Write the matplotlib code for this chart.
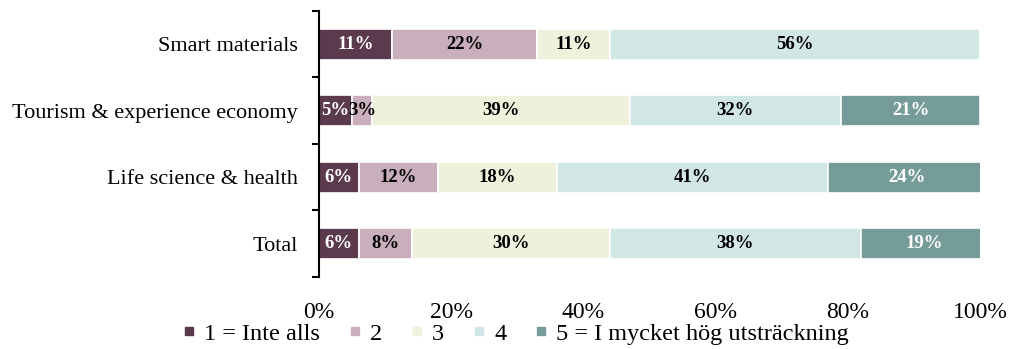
import matplotlib
matplotlib.use("Agg")
import matplotlib.pyplot as plt
from matplotlib.lines import Line2D
from matplotlib.ticker import FixedLocator, PercentFormatter

plt.rcParams["font.family"] = ["Liberation Serif", "DejaVu Serif"]

categories = ["Smart materials", "Tourism & experience economy",
              "Life science & health", "Total"]
levels = ["1 = Inte alls", "2", "3", "4", "5 = I mycket hög utsträckning"]
values = {
    "1 = Inte alls": [11, 5, 6, 6],
    "2": [22, 3, 12, 8],
    "3": [11, 39, 18, 30],
    "4": [56, 32, 41, 38],
    "5 = I mycket hög utsträckning": [0, 21, 24, 19],
}
colors = ["#5b3a4d", "#c9aebb", "#eff1dc", "#d3e6e6", "#769c9a"]
text_colors = ["white", "black", "black", "black", "white"]

fig = plt.figure(figsize=(10.11, 3.49), dpi=100)
ax = fig.add_axes([0.3155, 0.2063, 0.6538, 0.7622])

ypos = list(range(len(categories)))
left = [0.0] * len(categories)
for lvl, col, tcol in zip(levels, colors, text_colors):
    vals = values[lvl]
    ax.barh(ypos, vals, left=left, height=0.47, color=col,
            edgecolor="white", linewidth=1.2, label=lvl)
    for y, l, v in zip(ypos, left, vals):
        if v > 0:
            ax.text(l + v / 2, y, f"{v}%", ha="center", va="center",
                    color=tcol, fontsize=13.5, fontweight="bold")
    left = [a + b for a, b in zip(left, vals)]

ax.set_xlim(0, 100)
ax.set_ylim(len(categories) - 0.5, -0.5)
ax.set_yticks(ypos)
ax.set_yticklabels(categories, fontsize=16)
ax.yaxis.set_minor_locator(FixedLocator([i - 0.5 for i in range(len(categories) + 1)]))
ax.tick_params(axis="y", which="major", length=0, pad=15)
ax.tick_params(axis="y", which="minor", length=5, width=1.5, color="black")

ax.set_xticks([0, 20, 40, 60, 80, 100])
ax.xaxis.set_major_formatter(PercentFormatter(decimals=0))
ax.tick_params(axis="x", length=0, pad=18, labelsize=17)

for s in ["top", "right", "bottom"]:
    ax.spines[s].set_visible(False)
ax.spines["left"].set_linewidth(1.5)

# small square swatches for the legend
handles = [Line2D([], [], linestyle="none", marker="s", markersize=5.5,
                  markerfacecolor=c, markeredgecolor=c) for c in colors]
fig.legend(handles, levels, loc="lower left", bbox_to_anchor=(0.172, -0.016),
           ncol=5, frameon=False, fontsize=17.5, handlelength=0.45,
           handletextpad=0.4, columnspacing=1.2, borderaxespad=0)

fig.savefig("out.png", dpi=100)
